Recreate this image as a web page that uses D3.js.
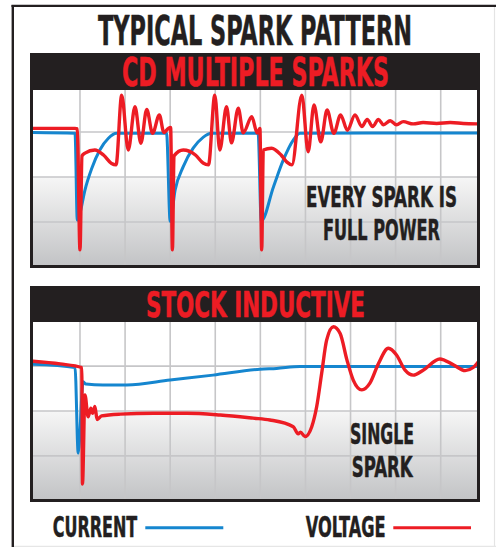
<!DOCTYPE html>
<html>
<head>
<meta charset="utf-8">
<script src="https://cdn.jsdelivr.net/npm/d3@7"></script>
<style>
  html, body { margin: 0; padding: 0; background: #ffffff; }
  svg { display: block; }
</style>
</head>
<body>
<svg id="chart" width="496" height="547"></svg>
<script>
// ---------------- DATA (x in grid divisions, y in grid divisions) ----------------
const gridX = [1, 2, 3, 4, 5, 6, 7, 8, 9];
const gridY = [1, 2, 3];

const titleText = "TYPICAL SPARK PATTERN";
const panelTitles = ["CD MULTIPLE SPARKS", "STOCK INDUCTIVE"];
const panelNotes = [["EVERY SPARK IS", "FULL POWER"], ["SINGLE", "SPARK"]];
const legendLabels = ["CURRENT", "VOLTAGE"];

// CD multiple sparks
const cdCurrent = [
  [-0.05, 2.99], [0.89, 2.97], [0.94, 1.04], [1.00, 1.20], [1.11, 1.71], [1.26, 2.19],
  [1.44, 2.60], [1.63, 2.86], [1.81, 2.97], [2.92, 2.97], [3.00, 1.01], [3.11, 1.71],
  [3.29, 2.23], [3.51, 2.64], [3.73, 2.88], [3.92, 2.97], [4.95, 2.97], [5.02, 1.02],
  [5.29, 1.78], [5.51, 2.38], [5.73, 2.82], [5.88, 2.97], [9.85, 2.98]
];
const cdVoltage = [
  [-0.05, 3.08], [0.89, 3.08], [0.94, 3.07], [1.00, 0.38], [1.045, 2.47], [1.11, 2.53],
  [1.33, 2.60], [1.52, 2.49], [1.70, 2.30], [1.80, 2.27], [1.925, 3.82], [2.07, 2.60],
  [2.22, 3.56], [2.35, 2.75], [2.48, 3.50], [2.61, 2.97], [2.76, 3.38], [2.86, 2.99],
  [2.96, 3.08], [3.01, 3.10], [3.05, 0.38], [3.085, 2.47], [3.29, 2.60], [3.56, 2.49],
  [3.73, 2.31], [3.85, 2.27], [3.99, 3.82], [4.10, 2.60], [4.25, 3.56], [4.36, 2.76],
  [4.51, 3.53], [4.62, 2.98], [4.81, 3.34], [4.93, 2.98], [4.99, 3.08], [5.03, 0.38],
  [5.065, 2.60], [5.25, 2.64], [5.46, 2.49], [5.59, 2.33], [5.70, 2.27], [5.92, 3.82],
  [6.06, 2.56], [6.19, 3.60], [6.34, 2.78], [6.48, 3.49], [6.63, 2.97], [6.78, 3.38],
  [6.93, 3.04], [7.10, 3.38], [7.25, 3.12], [7.37, 3.28], [7.49, 3.12], [7.62, 3.28],
  [7.73, 3.16], [7.88, 3.25], [8.02, 3.16], [8.17, 3.23], [8.39, 3.18], [8.61, 3.21],
  [8.91, 3.19], [9.21, 3.21], [9.50, 3.19], [9.85, 3.18]
];

// Stock inductive
const stockCurrent = [
  [-0.05, 3.04], [0.89, 2.97], [0.96, 1.06], [1.07, 2.65], [1.13, 2.60], [1.51, 2.58],
  [2.04, 2.58], [3.00, 2.69], [3.95, 2.80], [4.99, 2.93], [5.36, 2.95], [5.88, 2.99],
  [9.85, 2.99]
];
const stockVoltage = [
  [-0.05, 3.11], [0.56, 3.05], [1.04, 2.97], [1.055, 0.37], [1.11, 2.36], [1.18, 1.87],
  [1.24, 2.06], [1.28, 1.95], [1.33, 2.10], [1.38, 1.81], [1.48, 1.89], [1.89, 1.93],
  [2.63, 1.95], [3.37, 1.95], [4.11, 1.91], [4.84, 1.84], [5.21, 1.80], [5.73, 1.65],
  [5.84, 1.49], [5.89, 1.53], [5.99, 1.43], [6.14, 1.65], [6.25, 2.10], [6.36, 2.84],
  [6.47, 3.58], [6.62, 3.88], [6.77, 3.73], [6.92, 3.14], [7.06, 2.69], [7.25, 2.47],
  [7.43, 2.62], [7.62, 3.06], [7.84, 3.40], [8.02, 3.25], [8.21, 2.91], [8.39, 2.80],
  [8.61, 2.91], [8.98, 3.16], [9.28, 3.03], [9.54, 2.90], [9.72, 2.97], [9.85, 3.12]
];

// ---------------- STYLE ----------------
const RED = "#ed1c24", BLUE = "#1586cf", DARK = "#231f20", GRID = "#c6c6c8";
const FONT = "'Liberation Sans Narrow', 'DejaVu Sans Condensed', 'Roboto', sans-serif";

const svg = d3.select("#chart");
const defs = svg.append("defs");

const grad = defs.append("linearGradient").attr("id", "bgGrad")
  .attr("x1", 0).attr("y1", 0).attr("x2", 0).attr("y2", 1);
grad.append("stop").attr("offset", "0%").attr("stop-color", "#f6f6f6");
grad.append("stop").attr("offset", "100%").attr("stop-color", "#c3c4c6");

// outer frame
svg.append("rect").attr("x", 0).attr("y", 0).attr("width", 496).attr("height", 547).attr("fill", "#fff");
svg.append("line").attr("x1", 494.5).attr("y1", 7).attr("x2", 494.5).attr("y2", 547)
  .attr("stroke", "#e4e4e4").attr("stroke-width", 1.2);
svg.append("line").attr("x1", 12).attr("y1", 546.3).attr("x2", 496).attr("y2", 546.3)
  .attr("stroke", "#e6e6e6").attr("stroke-width", 1.2);
svg.append("line").attr("x1", 11.5).attr("y1", 5.8).attr("x2", 496).attr("y2", 5.8)
  .attr("stroke", DARK).attr("stroke-width", 2.2);
svg.append("line").attr("x1", 12.8).attr("y1", 5).attr("x2", 12.8).attr("y2", 547)
  .attr("stroke", DARK).attr("stroke-width", 2.4);

// text squeezed horizontally to the reference's width via a transform
function fitText(g, str, x0, x1, baseline, capH, color) {
  const t = g.append("text")
    .attr("x", 0).attr("y", 0)
    .attr("font-family", FONT).attr("font-weight", "bold")
    .attr("font-size", capH / 0.72)
    .attr("fill", color)
    .attr("stroke", color).attr("stroke-width", 0.5).attr("stroke-linejoin", "round")
    .text(str);
  const w = t.node().getComputedTextLength();
  const sx = (x1 - x0) / w;
  t.attr("transform", `translate(${x0},${baseline}) scale(${sx},1)`);
}

fitText(svg, titleText, 98, 412, 45, 30, DARK);

const x = d3.scaleLinear().domain([0, 10]).range([34.9, 485.8]);

const panels = [
  { top: 53, head: 90, bottom: 268, yRange: [267, 87], cur: cdCurrent, volt: cdVoltage,
    title: [122, 389, 86, 27.5],
    notes: [[306, 457, 207.3, 21], [323, 440, 239.5, 19.8]] },
  { top: 286, head: 322, bottom: 502, yRange: [500.7, 321.3], cur: stockCurrent, volt: stockVoltage,
    title: [146, 365, 317, 25.5],
    notes: [[350, 414, 444.3, 21], [351.7, 412.7, 476.7, 20]] }
];

const left = 30, right = 480, inL = 33, inR = 477;

panels.forEach((p, i) => {
  const g = svg.append("g");
  const y = d3.scaleLinear().domain([0, 4]).range(p.yRange);
  const inB = p.bottom - 3;

  // dark frame + header
  g.append("rect").attr("x", left).attr("y", p.top).attr("width", right - left)
    .attr("height", p.bottom - p.top).attr("fill", DARK);
  // plot background: white top, gradient bottom
  g.append("rect").attr("x", inL).attr("y", p.head).attr("width", inR - inL)
    .attr("height", inB - p.head).attr("fill", "#ffffff");
  g.append("rect").attr("x", inL).attr("y", y(2)).attr("width", inR - inL)
    .attr("height", inB - y(2)).attr("fill", "url(#bgGrad)");

  // grid
  g.selectAll(".gx").data(gridX).join("line")
    .attr("x1", d => x(d)).attr("x2", d => x(d))
    .attr("y1", p.head).attr("y2", inB)
    .attr("stroke", GRID).attr("stroke-width", 1.6);
  g.selectAll(".gy").data(gridY).join("line")
    .attr("x1", inL).attr("x2", inR)
    .attr("y1", d => y(d)).attr("y2", d => y(d))
    .attr("stroke", GRID).attr("stroke-width", 1.6);

  // header title
  fitText(g, panelTitles[i], p.title[0], p.title[1], p.title[2], p.title[3], RED);

  // notes
  panelNotes[i].forEach((t, k) => {
    const n = p.notes[k];
    fitText(g, t, n[0], n[1], n[2], n[3], DARK);
  });

  // clip
  const cid = "clip" + i;
  defs.append("clipPath").attr("id", cid).append("rect")
    .attr("x", inL).attr("y", p.head).attr("width", inR - inL).attr("height", inB - p.head);

  const line = d3.line().x(d => x(d[0])).y(d => y(d[1])).curve(d3.curveMonotoneX);
  const lg = g.append("g").attr("clip-path", `url(#${cid})`);
  lg.append("path").datum(p.cur).attr("d", line).attr("fill", "none")
    .attr("stroke", BLUE).attr("stroke-width", 3).attr("stroke-linejoin", "round");
  lg.append("path").datum(p.volt).attr("d", line).attr("fill", "none")
    .attr("stroke", RED).attr("stroke-width", 3.4).attr("stroke-linejoin", "round");
});

// legend
const lgd = svg.append("g");
fitText(lgd, legendLabels[0], 52.7, 137.3, 536.7, 20.7, DARK);
fitText(lgd, legendLabels[1], 305.7, 385.7, 536.7, 20.7, DARK);
lgd.append("line").attr("x1", 145.3).attr("x2", 223.3).attr("y1", 527.7).attr("y2", 527.7)
  .attr("stroke", BLUE).attr("stroke-width", 3);
lgd.append("line").attr("x1", 393.3).attr("x2", 471).attr("y1", 527.7).attr("y2", 527.7)
  .attr("stroke", RED).attr("stroke-width", 3);
</script>
</body>
</html>
